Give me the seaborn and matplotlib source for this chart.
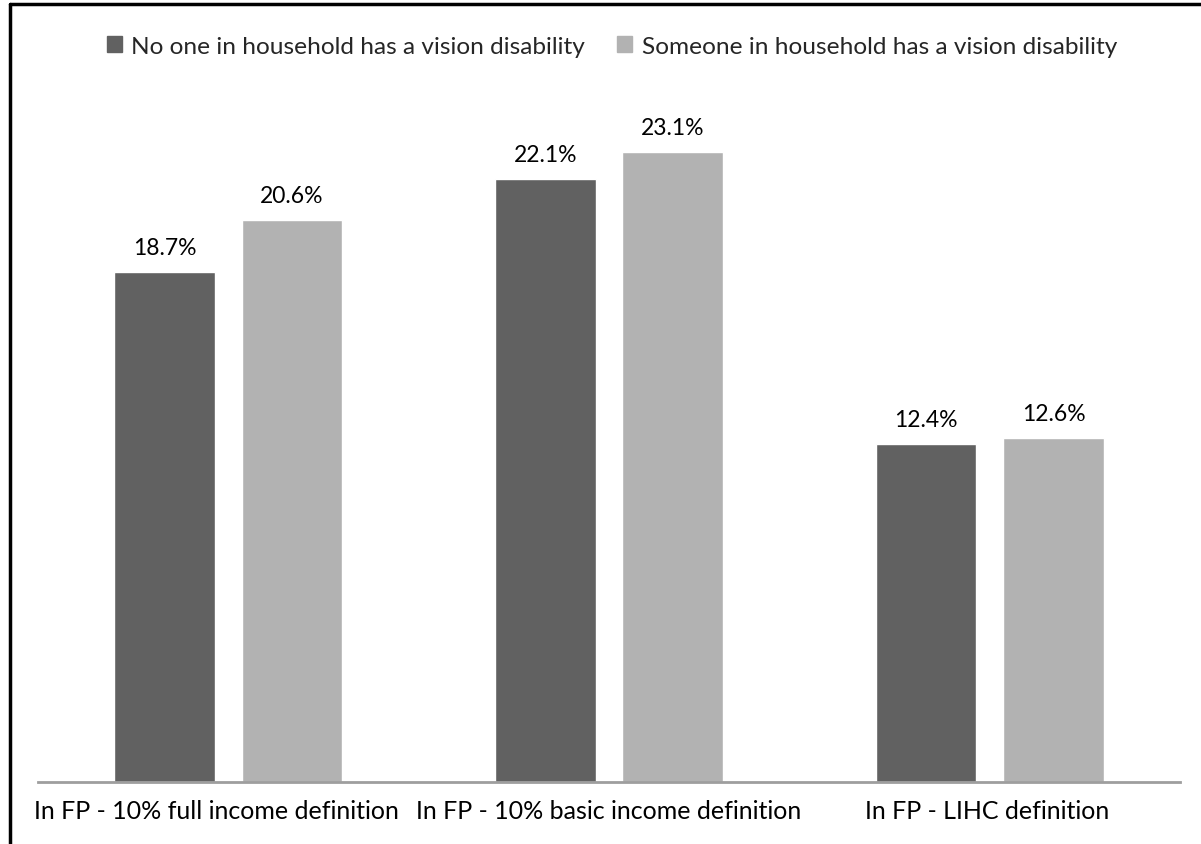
import matplotlib
matplotlib.use("Agg")
import matplotlib.pyplot as plt
from matplotlib.lines import Line2D
from matplotlib.transforms import ScaledTranslation
import seaborn as sns
import pandas as pd

categories = ["In FP - 10% full income definition",
              "In FP - 10% basic income definition",
              "In FP - LIHC definition"]
series_names = ["No one in household has a vision disability",
                "Someone in household has a vision disability"]
no_one = [18.7, 22.1, 12.4]
someone = [20.6, 23.1, 12.6]
colors = ["#616161", "#B2B2B2"]

df = pd.DataFrame({
    "category": categories * 2,
    "series": [series_names[0]] * 3 + [series_names[1]] * 3,
    "value": no_one + someone,
})

sns.set_theme(style="white")
plt.rcParams['font.family'] = ['Lato', 'DejaVu Sans']

W, H = 1201, 845
fig = plt.figure(figsize=(W / 100, H / 100), dpi=100)
ax = fig.add_axes([38 / W, 62 / H, (1180 - 38) / W, (783 - 101) / H])

sns.barplot(data=df, x="category", y="value", hue="series",
            palette=colors, width=0.67, gap=0.21, ax=ax,
            order=categories, hue_order=series_names, legend=False,
            saturation=1)

ax.set_ylim(0, 25)
ax.set_xlim(-0.5, 2.5)
ax.set_xlabel("")
ax.set_ylabel("")
ax.set_yticks([])
for s in ["top", "right", "left"]:
    ax.spines[s].set_visible(False)
ax.spines["bottom"].set_color("#9E9E9E")
ax.spines["bottom"].set_linewidth(2)
ax.tick_params(axis="x", length=0, pad=12, labelsize=18, colors="black")

# small horizontal nudges of the category labels (as in the original layout)
shifts = [-12, 0, -3]
for lab, dx in zip(ax.get_xticklabels(), shifts):
    lab.set_transform(lab.get_transform() + ScaledTranslation(dx / 100, 0, fig.dpi_scale_trans))

for cont in ax.containers:
    ax.bar_label(cont, labels=[f"{v:.1f}%" for v in cont.datavalues],
                 padding=10, fontsize=16.5, color="black")

# legend
handles = [plt.Rectangle((0, 0), 1, 1, color=c) for c in colors]
fig.legend(handles, series_names, loc="center", bbox_to_anchor=(612 / W, 1 - 47 / H),
           ncol=2, frameon=False, fontsize=17.6, handlelength=0.6, handleheight=0.6,
           handletextpad=0.4, columnspacing=1.3)

# chart frame
fig.add_artist(Line2D([9.5 / W, 9.5 / W], [0, 1 - 5 / H], color="black", lw=2.5,
                      transform=fig.transFigure))
fig.add_artist(Line2D([9.5 / W, 1], [1 - 5 / H, 1 - 5 / H], color="black", lw=2.5,
                      transform=fig.transFigure))

fig.savefig("out.png", dpi=100, facecolor="white")
